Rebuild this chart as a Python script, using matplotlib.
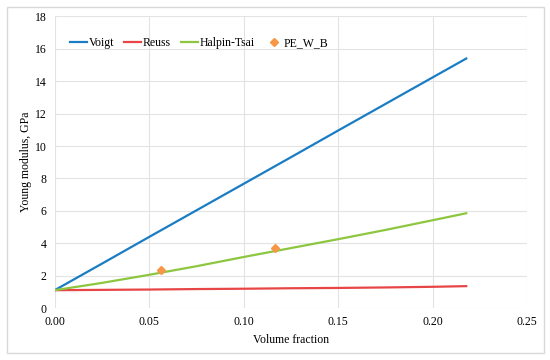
import matplotlib.pyplot as plt
from matplotlib.patches import Rectangle

plt.rcParams['font.family'] = ['Liberation Serif', 'DejaVu Serif']

# model curves
vf = [0.0, 0.025, 0.05, 0.075, 0.10, 0.125, 0.15, 0.175, 0.20, 0.2177]
voigt = [1.1, 2.74, 4.39, 6.03, 7.67, 9.31, 10.96, 12.6, 14.24, 15.4]
reuss = [1.1, 1.12, 1.14, 1.17, 1.19, 1.22, 1.24, 1.27, 1.31, 1.35]
halpin = [1.1, 1.55, 2.05, 2.58, 3.15, 3.7, 4.25, 4.82, 5.42, 5.85]

# measured points
pe_x = [0.056, 0.1165]
pe_y = [2.37, 3.73]

fig = plt.figure(figsize=(5.5, 3.6), dpi=100)
ax = fig.add_axes([0.0995, 0.1444, 0.8592, 0.81])

# light frame round the whole chart
fig.patches.append(Rectangle((0.013, 0.02), 0.976, 0.96, transform=fig.transFigure,
                             fill=False, edgecolor='#d9d9d9', lw=1))

ax.plot(vf, voigt, color='#1a7dc4', lw=1.6, label='Voigt')
ax.plot(vf, reuss, color='#e84646', lw=1.6, label='Reuss')
ax.plot(vf, halpin, color='#8dc63f', lw=1.6, label='Halpin-Tsai')
ax.plot(pe_x, pe_y, ls='none', marker='D', ms=4, color='#f79646', label='PE_W_B')

ax.set_xlim(0, 0.25)
ax.set_ylim(0, 18)
ax.set_xticks([0, 0.05, 0.10, 0.15, 0.20, 0.25])
ax.set_xticklabels(['0.00', '0.05', '0.10', '0.15', '0.20', '0.25'])
ax.set_yticks(range(0, 19, 2))
ax.grid(True, color='#e3e3e3', lw=0.8)
ax.set_axisbelow(True)
for s in ax.spines.values():
    s.set_visible(False)
ax.tick_params(length=0, labelsize=8.5, pad=6)

ax.set_xlabel('Volume fraction', fontsize=8.5, labelpad=4)
ax.set_ylabel('Young modulus, GPa', fontsize=8.5, labelpad=2)

ax.legend(loc='upper left', bbox_to_anchor=(0.01, 0.965), ncol=4, frameon=False,
          fontsize=8.5, handlelength=1.4, handletextpad=0.15, columnspacing=0.9)

fig.savefig('out.png')
